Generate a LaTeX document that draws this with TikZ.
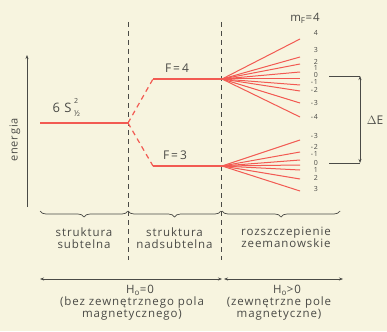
\documentclass[tikz,border=0pt]{standalone}
\usepackage{fontspec}
\setmainfont{Open Sans}[LetterSpace=8]
\usepackage{tikz}
\usetikzlibrary{arrows.meta,positioning,decorations.pathreplacing}
\definecolor{zpaper}{HTML}{F7F4DF}
\definecolor{zred}{HTML}{F25A52}
\definecolor{zink}{HTML}{4A4A46}

\begin{document}
\begin{tikzpicture}[x=1pt,y=-1pt,
  lvl/.style={zred,line width=1.2pt},
  dlvl/.style={zred,line width=1.2pt,dash pattern=on 5pt off 4pt},
  sep/.style={zink,line width=0.7pt,dash pattern=on 5pt off 4pt},
  lab/.style={font=\fontsize{11.5}{12}\selectfont,text=zink,align=center,inner sep=1pt},
  mlab/.style={font=\fontsize{7}{7}\selectfont,text=zink,anchor=east,inner sep=0pt},
  brc/.style={zink,line width=0.7pt,decorate,decoration={brace,amplitude=6pt}},
  arr/.style={{Stealth[length=4pt,width=3pt]}-{Stealth[length=4pt,width=3pt]},zink,line width=0.6pt}]
  \fill[zpaper] (0,0) rectangle (387,331);
  \useasboundingbox (0,0) rectangle (387,331);
  % energy axis
  \coordinate (axb) at (27,207);
  \coordinate (axt) at (27,55);
  \draw[-{Stealth[length=4pt,width=3pt]},zink,line width=0.7pt] (axb) -- (axt);
  \node[lab,rotate=90,font=\fontsize{11}{12}\selectfont] (energy) at (15,140) {energia};
  % separators
  \coordinate (s1t) at (128,22); \coordinate (s1b) at (128,260);
  \coordinate (s2t) at (221,22); \coordinate (s2b) at (221,260);
  \draw[sep] (s1t) -- (s1b);
  \draw[sep] (s2t) -- (s2b);
  % levels
  \coordinate (fs0) at (40,123);
  \coordinate (fs1) at (128,123);
  \coordinate (f4a) at (153,79);
  \coordinate (f4b) at (222,79);
  \coordinate (f3a) at (153,166);
  \coordinate (f3b) at (222,166);
  \draw[lvl] (fs0) -- (fs1);
  \draw[dlvl] (fs1) -- (f4a);
  \draw[dlvl] (fs1) -- (f3a);
  \draw[lvl] (f4a) -- (f4b);
  \draw[lvl] (f3a) -- (f3b);
  \node[lab,font=\fontsize{13}{13}\selectfont] (fine) at (62,108) {6 S};
  \node[lab,font=\fontsize{7}{7}\selectfont,inner sep=0pt] (fsup) at (76,101) {2};
  \node[lab,font=\fontsize{8}{8}\selectfont,inner sep=0pt] (fsub) at (77,113.5) {½};
  \node[lab,font=\fontsize{12}{12}\selectfont] (f4) at (177,68) {F\,=\,4};
  \node[lab,font=\fontsize{12}{12}\selectfont] (f3) at (175,155) {F\,=\,3};
  % zeeman fans
  \node[lab] (mf) at (305,18) {m\textsubscript{F}=4};
  \foreach \m/\ye/\yl in {4/39/33,3/57/50,2/64/62,1/72/68,0/79/75,
      -1/85/82,-2/91/90,-3/103/103,-4/117/117}{
    \node[mlab] (up\m) at (318,\yl) {\m};
    \draw[lvl,line width=1pt] (f4b) -- (300,\ye);
  }
  \foreach \m/\ye/\yl in {-3/140/136,-2/152/147,-1/160/154,0/165/163,
      1/170/170,2/179/178,3/191/189}{
    \node[mlab] (lo\m) at (318,\yl) {\m};
    \draw[lvl,line width=1pt] (f3b) -- (300,\ye);
  }
  % splitting
  \coordinate (det) at (329,76);
  \coordinate (deb) at (329,163);
  \coordinate (det2) at (360,76);
  \coordinate (deb2) at (360,163);
  \draw[zink,line width=0.6pt] (det) -- (det2);
  \draw[zink,line width=0.6pt] (deb) -- (deb2);
  \draw[arr] (det2) -- (deb2);
  \node[lab,font=\fontsize{12}{12}\selectfont] (dE) at (375,120) {$\Delta$E};
  % braces
  \draw[brc] (128,211) -- node[lab,below=15pt] (b1) {struktura\\subtelna} (40,211);
  \draw[brc] (221,211) -- node[lab,below=15pt] (b2) {struktura\\nadsubtelna} (128,211);
  \draw[brc] (340,211) -- node[lab,below=15pt,xshift=5pt] (b3) {rozszczepienie\\zeemanowskie} (222,211);
  % field ranges
  \coordinate (h1a) at (40,279); \coordinate (h1b) at (222,279);
  \coordinate (h2a) at (224,279); \coordinate (h2b) at (343,279);
  \draw[arr] (h1a) -- (h1b);
  \draw[arr] (h2a) -- (h2b);
  \node[lab] (h0) at (140,290) {H\textsubscript{o}=0};
  \node[lab] (h0t) at (132,309) {(bez zewnętrznego pola\\magnetycznego)};
  \node[lab] (h1) at (287,290) {H\textsubscript{o}>0};
  \node[lab] (h1t) at (279,309) {(zewnętrzne pole\\magnetyczne)};
\end{tikzpicture}
\end{document}
